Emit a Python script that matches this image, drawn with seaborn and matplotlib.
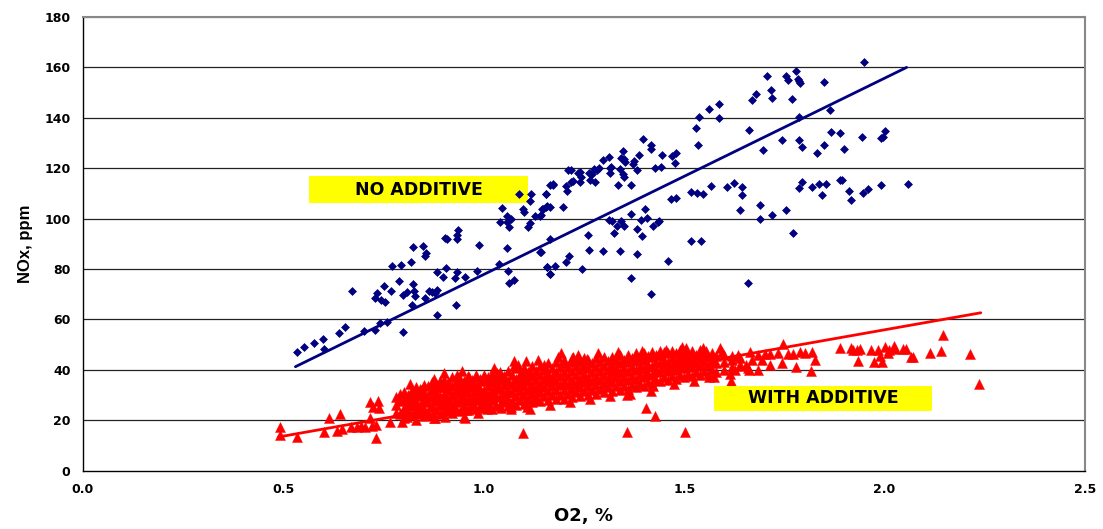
import matplotlib
matplotlib.use("Agg")
import matplotlib.pyplot as plt
import seaborn as sns
import pandas as pd

# ---- data (O2 %, NOx ppm) ----
blue_points = [
    (0.533, 47.2), (0.551, 49.2), (0.576, 50.6), (0.598, 52.3), (0.601, 48.4), (0.638, 54.7),
    (0.653, 56.9), (0.672, 71.4), (0.701, 55.5), (0.729, 55.9), (0.741, 58.5), (0.759, 58.9),
    (0.728, 68.5), (0.733, 70.5), (0.743, 67.8), (0.753, 66.7), (0.751, 73.1), (0.769, 71.4),
    (0.770, 81.3), (0.793, 81.6), (0.788, 75.3), (0.799, 55.0), (0.798, 69.8), (0.809, 70.7),
    (0.818, 82.9), (0.820, 65.5), (0.823, 88.6), (0.824, 74.0), (0.826, 71.4), (0.828, 69.4),
    (0.849, 89.3), (0.853, 85.3), (0.857, 86.4), (0.853, 68.5), (0.863, 71.4), (0.872, 70.7),
    (0.878, 70.5), (0.882, 71.8), (0.882, 78.9), (0.882, 61.8), (0.898, 76.8), (0.905, 80.2),
    (0.903, 92.3), (0.908, 91.7), (0.928, 76.3), (0.930, 65.8), (0.934, 78.6), (0.933, 91.7),
    (0.933, 93.6), (0.936, 95.6), (0.954, 76.7), (0.982, 79.0), (0.988, 89.4), (1.039, 82.0),
    (1.058, 88.3), (1.061, 79.3), (1.062, 74.4), (1.076, 75.6), (1.045, 104.1), (1.041, 98.8),
    (1.058, 100.9), (1.058, 98.8), (1.064, 96.5), (1.069, 99.9), (1.099, 103.6), (1.101, 102.8),
    (1.111, 96.5), (1.116, 98.3), (1.116, 106.9), (1.118, 109.8), (1.128, 100.9), (1.140, 101.2),
    (1.141, 86.6), (1.144, 103.6), (1.155, 109.8), (1.158, 104.9), (1.166, 113.5), (1.158, 80.8),
    (1.164, 78.0), (1.089, 109.9),
    (1.143, 101.3), (1.147, 103.9), (1.155, 104.7), (1.165, 104.7), (1.156, 109.8), (1.172, 113.5),
    (1.173, 113.9), (1.197, 104.4), (1.205, 112.8), (1.208, 110.9), (1.209, 119.1), (1.218, 119.1),
    (1.218, 114.6), (1.223, 114.8), (1.234, 118.2), (1.241, 118.6), (1.243, 116.4), (1.241, 114.6),
    (1.262, 118.2), (1.266, 115.5), (1.269, 117.5), (1.274, 119.5), (1.278, 114.4), (1.283, 119.2),
    (1.288, 120.2), (1.298, 123.3), (1.313, 124.4), (1.316, 120.2), (1.316, 117.9), (1.318, 120.6),
    (1.336, 113.5), (1.341, 119.5), (1.343, 124.1), (1.347, 127.0), (1.349, 123.5), (1.353, 122.4),
    (1.347, 117.5), (1.351, 116.4), (1.368, 113.5), (1.372, 121.5), (1.374, 122.8), (1.382, 119.2),
    (1.386, 125.4), (1.397, 131.7), (1.418, 129.3), (1.418, 127.6), (1.426, 120.0), (1.443, 120.6),
    (1.445, 125.2), (1.470, 124.8), (1.476, 122.1), (1.480, 126.1), (1.530, 135.9), (1.534, 129.0),
    (1.538, 140.3), (1.562, 143.6), (1.588, 145.3), (1.587, 140.0), (1.662, 135.1), (1.669, 147.2),
    (1.678, 149.6), (1.706, 156.7), (1.716, 150.9), (1.718, 148.0), (1.753, 156.6), (1.759, 154.9),
    (1.769, 147.3), (1.779, 158.6), (1.784, 155.3), (1.787, 154.6), (1.788, 154.0), (1.786, 140.3),
    (1.849, 154.2), (1.863, 142.9), (1.697, 127.4), (1.743, 131.1), (1.786, 131.1), (1.795, 128.3),
    (1.831, 126.0), (1.848, 129.3), (1.866, 134.2), (1.888, 134.1),
    (1.143, 86.8), (1.165, 91.7), (1.158, 80.6), (1.166, 78.0), (1.178, 81.3), (1.206, 82.8),
    (1.213, 85.0), (1.245, 80.1), (1.261, 93.6), (1.263, 87.7), (1.298, 87.3), (1.313, 99.6),
    (1.319, 99.1), (1.326, 94.3), (1.333, 96.9), (1.343, 98.9), (1.349, 96.9), (1.341, 87.0),
    (1.368, 101.7), (1.368, 76.5), (1.382, 86.1), (1.383, 96.0), (1.393, 99.6), (1.395, 93.2),
    (1.403, 103.9), (1.408, 100.3), (1.422, 97.2), (1.434, 98.7), (1.438, 98.9), (1.416, 70.2),
    (1.459, 83.0), (1.468, 107.6), (1.480, 108.3), (1.518, 110.7), (1.518, 91.0), (1.533, 110.2),
    (1.541, 91.0), (1.547, 109.7), (1.568, 112.8), (1.608, 112.6), (1.624, 114.2), (1.643, 112.6),
    (1.645, 109.5), (1.640, 103.2), (1.658, 74.4), (1.689, 105.2), (1.690, 100.0), (1.718, 101.3),
    (1.753, 103.5), (1.772, 94.4), (1.786, 112.2), (1.793, 114.7), (1.819, 112.4), (1.837, 113.8),
    (1.853, 113.8), (1.843, 109.4), (1.888, 115.5),
    (1.948, 162.1), (1.899, 127.8), (1.943, 132.5), (1.991, 132.1), (1.995, 132.3), (2.001, 134.6),
    (1.894, 115.5), (1.912, 110.9), (1.916, 107.4), (1.945, 110.2), (1.958, 111.8), (1.991, 113.2),
    (2.058, 113.8),
]

red_scatter_points = [
    (0.491, 17.2), (0.491, 14.1), (0.534, 13.4), (0.601, 15.2), (0.613, 21.0), (0.641, 22.3),
    (0.634, 15.7), (0.645, 16.6), (0.668, 17.2), (0.683, 17.2), (0.693, 17.7), (0.703, 17.2),
    (0.716, 21.0), (0.716, 27.0), (0.737, 27.4), (0.723, 25.1), (0.738, 25.0), (0.722, 17.8),
    (0.730, 18.1), (0.730, 12.8), (0.765, 19.4), (0.797, 19.4), (0.801, 24.1), (0.803, 28.0),
    (0.808, 21.4), (0.820, 30.7), (0.824, 27.4), (0.830, 20.1), (0.843, 32.0), (0.847, 25.1),
    (0.849, 22.7), (0.855, 28.0), (0.866, 25.4), (0.876, 20.8), (0.880, 29.3), (0.883, 34.0),
    (0.893, 33.3), (0.901, 38.6), (0.903, 21.2), (0.893, 26.0), (0.909, 28.0), (0.921, 30.0),
    (0.919, 24.1), (0.933, 38.0), (0.934, 35.3), (0.943, 32.0), (0.943, 28.0), (0.951, 21.4),
    (0.956, 24.1), (0.964, 37.3), (0.968, 33.3), (0.972, 29.3), (0.976, 25.4), (0.984, 34.0),
    (0.993, 31.3), (0.997, 27.4), (1.009, 24.3), (1.013, 36.0), (1.018, 30.0), (1.034, 38.6),
    (1.038, 33.3), (1.043, 24.7), (1.051, 36.3), (1.059, 31.3), (1.068, 25.4), (1.076, 43.3),
    (1.076, 41.6), (1.105, 43.3), (1.099, 15.0), (1.093, 34.7), (1.096, 38.6), (1.100, 30.0),
    (1.108, 25.4), (1.118, 38.6), (1.122, 33.3), (1.126, 28.0), (0.879, 20.7), (0.953, 20.8),
    (1.068, 24.3),
    (1.193, 46.6), (1.222, 45.0), (1.238, 43.3), (1.258, 44.2), (1.358, 15.4), (1.503, 15.4),
    (1.405, 24.7), (1.426, 21.8), (1.417, 31.7), (1.421, 33.6), (1.358, 30.0), (1.494, 49.2),
    (1.547, 48.6), (1.590, 48.8), (1.618, 35.7), (1.563, 37.3), (1.663, 47.2), (1.684, 45.9),
    (1.701, 46.3), (1.713, 46.2), (1.734, 46.6), (1.747, 50.2), (1.744, 42.6), (1.759, 46.3),
    (1.772, 46.2), (1.780, 41.0), (1.788, 47.2), (1.801, 46.6), (1.819, 47.0), (1.826, 43.7),
    (1.816, 39.6), (1.713, 41.9), (1.683, 40.0), (1.659, 40.6), (1.638, 41.3), (1.626, 40.0),
    (1.668, 43.7), (1.693, 43.9), (1.662, 40.0),
    (1.888, 48.6), (1.922, 47.9), (1.930, 47.9), (1.938, 48.2), (1.934, 43.5), (1.966, 47.9),
    (1.974, 42.9), (1.984, 47.9), (1.988, 45.5), (1.994, 43.0), (2.001, 49.2), (2.008, 46.6),
    (2.011, 47.9), (2.024, 49.5), (2.026, 48.3), (2.045, 48.2), (2.053, 48.2), (2.066, 45.2),
    (2.070, 45.2), (2.113, 46.6), (2.141, 47.5), (2.145, 53.9), (2.212, 46.3), (2.236, 34.3),
    (1.916, 48.6),
]

# dense core of the red cloud: O2 value -> NOx values read in that column
red_core = {
    0.78: [23, 26, 29], 0.79: [22.5, 27.5, 30.5], 0.80: [21, 25, 28, 31],
    0.81: [23.5, 26.5, 30], 0.82: [22, 25.5, 29, 32], 0.83: [24, 27, 30.5, 33],
    0.84: [22.5, 26, 29.5, 32.5], 0.85: [21.5, 24.5, 28, 31, 34], 0.86: [23, 27, 30, 33.5],
    0.87: [22, 25.5, 29, 32, 35], 0.88: [24, 27.5, 31, 34], 0.89: [22.5, 26, 29.5, 33, 35.5],
    0.90: [23.5, 27, 30.5, 34, 36], 0.91: [25, 28.5, 32, 35], 0.92: [23, 26.5, 30, 33.5, 37],
    0.93: [24.5, 28, 31.5, 35], 0.94: [23.5, 27, 30.5, 34, 36.5], 0.95: [25.5, 29, 32.5, 35.5],
    0.96: [24, 27.5, 31, 34.5, 37.5], 0.97: [26, 29.5, 33, 36], 0.98: [24.5, 28, 31.5, 35, 38],
    0.99: [25.5, 29, 32.5, 36.5], 1.00: [25, 28.5, 32, 35.5, 38], 1.01: [26.5, 30, 33.5, 37],
    1.02: [24.5, 28, 31.5, 35, 38.5], 1.03: [26, 29.5, 33, 36.5], 1.04: [25.5, 29, 32.5, 36, 39],
    1.05: [27, 30.5, 34, 37.5], 1.06: [25.5, 28.5, 32, 35.5, 39.5], 1.07: [27.5, 31, 34.5, 38],
    1.08: [26, 29.5, 33, 36.5, 40.5], 1.09: [28, 31.5, 35, 38.5], 1.10: [26.5, 30, 33.5, 37, 40.5],
    1.11: [28.5, 32, 35.5, 39], 1.12: [27, 30.5, 34, 37.5, 41.5], 1.13: [29, 32.5, 36, 39.5],
    1.14: [27.5, 31, 34.5, 38, 41.5], 1.15: [29.5, 33, 36.5, 40, 42], 1.16: [28, 31.5, 35, 38.5, 42.5],
    1.17: [30, 33.5, 37, 40.5], 1.18: [28.5, 32, 35.5, 39, 43], 1.19: [30, 34, 37.5, 41],
    1.20: [28.5, 32, 35.5, 39, 42.5, 44], 1.21: [30.5, 34, 37.5, 41], 1.22: [29, 32.5, 36, 39.5, 43, 44.5],
    1.23: [31, 34.5, 38, 41.5], 1.24: [29.5, 33, 36.5, 40, 43.5], 1.25: [31.5, 35, 38.5, 42, 44.5],
    1.26: [30, 33.5, 37, 40.5, 44], 1.27: [32, 35.5, 39, 42.5], 1.28: [30.5, 34, 37.5, 41, 44.5],
    1.29: [32.5, 36, 39.5, 43], 1.30: [31, 34.5, 38, 41.5, 45], 1.31: [33, 36.5, 40, 43.5],
    1.32: [31.5, 35, 38.5, 42, 45], 1.33: [33.5, 37, 40.5, 44], 1.34: [32, 35.5, 39, 42.5, 46],
    1.35: [33.5, 37, 40.5, 44], 1.36: [32.5, 36, 39.5, 43, 46], 1.37: [34, 37.5, 41, 44.5],
    1.38: [33, 36.5, 40, 43.5, 46.5], 1.39: [34.5, 38, 41.5, 45], 1.40: [33.5, 37, 40.5, 44, 46.5],
    1.41: [35, 38.5, 42, 45.5], 1.42: [34.5, 38, 41.5, 45, 47], 1.43: [36, 39.5, 43, 46],
    1.44: [35.5, 39, 42.5, 46, 47.5], 1.45: [37, 40.5, 44, 47], 1.46: [36, 39.5, 43, 46.5],
    1.47: [37.5, 41, 44.5, 47.5], 1.48: [36.5, 40, 43.5, 46.5], 1.49: [38, 41.5, 45, 48],
    1.50: [37, 40.5, 44, 47], 1.51: [38.5, 42, 45.5], 1.52: [37.5, 41, 44.5, 47.5],
    1.53: [39, 42.5, 46], 1.54: [38, 41.5, 45, 48], 1.55: [39.5, 43, 46.5],
    1.56: [38.5, 42, 45.5], 1.57: [40, 43.5, 46.5], 1.58: [39, 42.5, 45.5],
    1.60: [40, 43, 46], 1.62: [41, 44, 45.5], 1.64: [42, 44.5],
}
# extra readings that break up the core (scattered inside the cloud)
red_core_extra = [
    (0.815, 34.5), (0.835, 23.0), (0.875, 36.5), (0.905, 25.5), (0.945, 39.5), (0.985, 23.0),
    (1.025, 40.5), (1.045, 27.5), (1.085, 42.0), (1.115, 24.5), (1.135, 44.0), (1.165, 26.0),
    (1.185, 45.0), (1.215, 27.0), (1.235, 46.0), (1.265, 28.5), (1.285, 46.5), (1.315, 29.5),
    (1.335, 47.0), (1.365, 30.5), (1.395, 47.5), (1.425, 36.0), (1.455, 48.0), (1.475, 34.5),
    (1.505, 48.5), (1.525, 35.5), (1.555, 47.5), (1.575, 37.0), (1.595, 47.0), (1.615, 38.5),
    (1.635, 46.0), (1.655, 42.0), (1.025, 33.0), (1.175, 36.0), (1.325, 40.0), (1.475, 42.0),
    (0.955, 31.0), (1.105, 37.0), (1.255, 35.5), (1.405, 39.0),
]

# trend lines (end points)
blue_trend_x = [0.53, 2.055]
blue_trend_y = [41.2, 160.0]
red_trend_x = [0.4875, 2.24]
red_trend_y = [13.3, 62.6]

x_ticks = [0.0, 0.5, 1.0, 1.5, 2.0, 2.5]
y_ticks = [0, 20, 40, 60, 80, 100, 120, 140, 160, 180]
label_no = "NO ADDITIVE"
label_with = "WITH ADDITIVE"

# ---- build tables ----
blue_df = pd.DataFrame(blue_points, columns=["o2", "nox"])
red_rows = list(red_scatter_points) + list(red_core_extra)
for xv, ys in red_core.items():
    for yv in ys:
        red_rows.append((xv, yv))
red_df = pd.DataFrame(red_rows, columns=["o2", "nox"])
blue_line = pd.DataFrame({"o2": blue_trend_x, "nox": blue_trend_y})
red_line = pd.DataFrame({"o2": red_trend_x, "nox": red_trend_y})

sns.set_style("white")
plt.rcParams["font.family"] = ["DejaVu Sans"]
plt.rcParams["text.color"] = "black"
plt.rcParams["axes.labelcolor"] = "black"
plt.rcParams["xtick.color"] = "black"
plt.rcParams["ytick.color"] = "black"

fig = plt.figure(figsize=(11.03, 5.29), dpi=100)
ax = fig.add_axes([83 / 1103, 1 - 470.5 / 529, (1085 - 83) / 1103, (470.5 - 17) / 529])

for yv in y_ticks[1:]:
    ax.axhline(yv, color="#222222" if yv != 180 else "#888888", lw=0.9, zorder=0)

sns.scatterplot(data=red_df, x="o2", y="nox", marker="^", s=52, color="#FF0000",
                edgecolor="#FF0000", linewidth=0.3, ax=ax, zorder=3)
sns.scatterplot(data=blue_df, x="o2", y="nox", marker="D", s=16, color="#000080",
                edgecolor="#000080", linewidth=0.5, ax=ax, zorder=4)
sns.lineplot(data=blue_line, x="o2", y="nox", color="#000080", lw=2.0, ax=ax, zorder=5)
sns.lineplot(data=red_line, x="o2", y="nox", color="#FF0000", lw=2.0, ax=ax, zorder=5)

ax.set_xlim(0, 2.5)
ax.set_ylim(0, 180)
ax.set_xticks(x_ticks)
ax.set_xticklabels([f"{v:.1f}" for v in x_ticks])
ax.set_yticks(y_ticks)
ax.set_yticklabels([str(v) for v in y_ticks])
ax.tick_params(axis="both", direction="out", length=4, width=1, color="black",
               labelcolor="black", labelsize=9, pad=5)
for lab in ax.get_xticklabels() + ax.get_yticklabels():
    lab.set_fontweight("bold")

ax.set_xlabel("O2, %", fontsize=13, fontweight="bold", labelpad=8, color="black")
ax.set_ylabel("NOx, ppm", fontsize=12, fontweight="bold", labelpad=8, color="black",
              family=["Liberation Sans", "DejaVu Sans"])

for side in ["left", "bottom"]:
    ax.spines[side].set_color("black")
    ax.spines[side].set_linewidth(1.0)
for side in ["right", "top"]:
    ax.spines[side].set_color("#888888")
    ax.spines[side].set_linewidth(1.5)

# yellow label boxes
ax.add_patch(plt.Rectangle((0.565, 106.2), 0.545, 10.7, facecolor="#FFFF00",
                           edgecolor="none", zorder=2))
ax.text(0.8375, 111.5, label_no, ha="center", va="center", fontsize=12.5,
        fontweight="bold", color="black", zorder=6)
ax.add_patch(plt.Rectangle((1.575, 23.7), 0.543, 9.9, facecolor="#FFFF00",
                           edgecolor="none", zorder=6))
ax.text(1.8465, 28.6, label_with, ha="center", va="center", fontsize=12.5,
        fontweight="bold", color="black", zorder=7)

fig.savefig("out.png", dpi=100)
